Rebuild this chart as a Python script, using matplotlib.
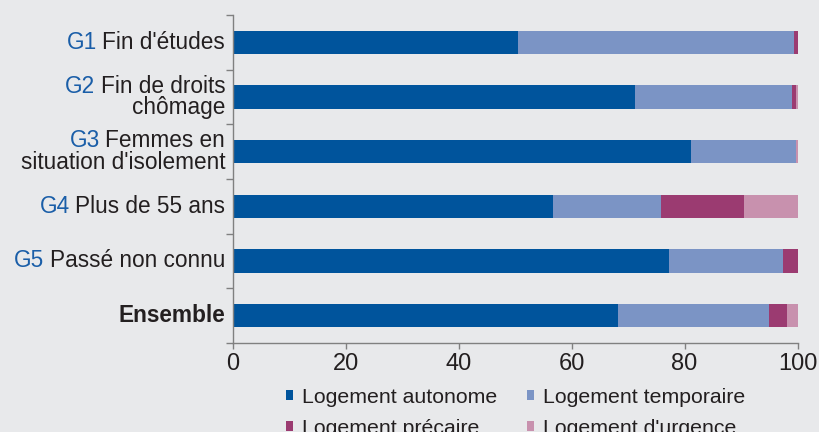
import matplotlib.pyplot as plt
from matplotlib.patches import Patch

plt.rcParams['font.family'] = ['Liberation Sans', 'DejaVu Sans']

# groupes (haut -> bas)
prefixes = ['G1', 'G2', 'G3', 'G4', 'G5', '']
labels = [['Fin d\'études'], ['Fin de droits', 'chômage'], ['Femmes en', 'situation d\'isolement'],
          ['Plus de 55 ans'], ['Passé non connu'], ['Ensemble']]

autonome = [50.5, 71.2, 81.1, 56.7, 77.3, 68.2]
temporaire = [48.9, 27.8, 18.6, 19.1, 20.1, 26.8]
precaire = [0.6, 0.7, 0.0, 14.7, 2.6, 3.2]
urgence = [0.0, 0.3, 0.3, 9.5, 0.0, 1.8]

series = [autonome, temporaire, precaire, urgence]
names = ['Logement autonome', 'Logement temporaire', 'Logement précaire', "Logement d'urgence"]
colors = ['#00549c', '#7b94c5', '#9b3b71', '#c891ae']

bg = '#e8e9eb'
dark = '#231f20'
blue = '#1a5ea8'

fig = plt.figure(figsize=(8.19, 4.32), dpi=100, facecolor=bg)
ax = fig.add_axes([0.2839, 0.206, 0.6899, 0.7594], facecolor=bg)

y = list(range(len(autonome)))
left = [0] * len(y)
for vals, col in zip(series, colors):
    ax.barh(y, vals, left=left, height=0.43, color=col, linewidth=0)
    left = [l + v for l, v in zip(left, vals)]

ax.set_xlim(0, 100)
ax.set_ylim(len(y) - 0.5, -0.5)
ax.set_xticks([0, 20, 40, 60, 80, 100])
ax.tick_params(axis='x', colors='#808080', labelcolor=dark, labelsize=17, length=4, width=1, pad=3)
ax.set_yticks([i - 0.5 for i in range(len(y) + 1)])
ax.set_yticklabels([])
ax.tick_params(axis='y', colors='#808080', length=5, width=1)
for s in ['top', 'right']:
    ax.spines[s].set_visible(False)
for s in ['left', 'bottom']:
    ax.spines[s].set_color('#808080')
    ax.spines[s].set_linewidth(1)

# etiquettes des groupes
for i, (pre, lines) in enumerate(zip(prefixes, labels)):
    n = len(lines)
    first = None
    for k, line in enumerate(lines):
        dy = (k - (n - 1) / 2) * 0.40
        t = ax.text(-1.3, i + dy, line, ha='right', va='center', fontsize=16.3, color=dark,
                    fontweight='bold' if pre == '' else 'normal')
        if first is None:
            first = t
    if pre:
        ax.annotate(pre, xy=(0, 0), xycoords=first, xytext=(-4, 0), textcoords='offset points',
                    ha='right', va='bottom', fontsize=16.3, color=blue)

# legende : ligne 1 autonome / temporaire, ligne 2 precaire / urgence
order = [0, 2, 1, 3]
handles = [Patch(facecolor=colors[j], edgecolor='none') for j in order]
fig.legend(handles, [names[j] for j in order], ncol=2, loc='upper left', bbox_to_anchor=(0.349, 0.103),
           frameon=False, fontsize=15.3, handlelength=0.33, handleheight=0.33,
           handletextpad=0.45, columnspacing=1.37, labelspacing=0.58, borderpad=0,
           borderaxespad=0, labelcolor=dark)

fig.savefig('out.png', dpi=100, facecolor=bg)
